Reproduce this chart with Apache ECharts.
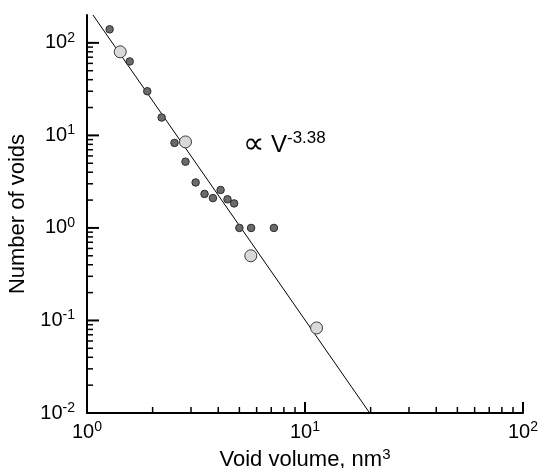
<!DOCTYPE html>
<html>
<head>
<meta charset="utf-8">
<script src="https://cdn.jsdelivr.net/npm/echarts@6/dist/echarts.min.js"></script>
<style>
  html, body { margin: 0; padding: 0; background: #fff; }
  #chart { width: 539px; height: 468px; }
</style>
</head>
<body>
<div id="chart"></div>
<script>
  // 数据：小圆点（测量值）
  var smallX = [1.27, 1.57, 1.89, 2.2, 2.52, 2.83, 3.15, 3.46, 3.78, 4.1, 4.41, 4.73, 5.0, 5.66, 7.2];
  var smallY = [140, 63, 30, 15.6, 8.3, 5.2, 3.1, 2.33, 2.1, 2.57, 2.04, 1.84, 1.0, 1.0, 1.0];
  // 大圆点
  var bigX = [1.42, 2.83, 5.64, 11.3];
  var bigY = [80, 8.5, 0.5, 0.083];
  // 拟合直线两端 (∝ V^-3.38)
  var fitX = [1.065, 19.8];
  var fitY = [200, 0.01];
  // 刻度
  var xMajor = [1, 10, 100];
  var xMinor = [2, 3, 4, 5, 6, 7, 8, 9, 20, 30, 40, 50, 60, 70, 80, 90];
  var yMajor = [0.01, 0.1, 1, 10, 100];
  var yMinor = [0.02, 0.03, 0.04, 0.05, 0.06, 0.07, 0.08, 0.09,
                0.2, 0.3, 0.4, 0.5, 0.6, 0.7, 0.8, 0.9,
                2, 3, 4, 5, 6, 7, 8, 9,
                20, 30, 40, 50, 60, 70, 80, 90];

  var xMin = 1, xMax = 100, yMin = 0.01, yMax = 200;

  function pairs(xs, ys) {
    return xs.map(function (x, i) { return [x, ys[i]]; });
  }

  var font = 'Liberation Sans, Arial, Helvetica, sans-serif';

  function powLabel(v) {
    var e = Math.round(Math.log(v) / Math.LN10);
    return '{b|10}{s|' + e + '}';
  }
  var powRich = {
    b: { fontSize: 20, fontFamily: font, color: '#000', lineHeight: 24 },
    s: { fontSize: 14, fontFamily: font, color: '#000', verticalAlign: 'top', lineHeight: 14 }
  };

  // 向内的刻度线：用矩形符号的散点画，位置由坐标轴换算
  function tickSeries(vals, dir, len, width) {
    var data = vals.map(function (v) { return dir === 'x' ? [v, yMin] : [xMin, v]; });
    return {
      type: 'scatter',
      silent: true,
      clip: false,
      z: 5,
      data: data,
      symbol: 'rect',
      symbolSize: dir === 'x' ? [width, len] : [len, width],
      symbolOffset: dir === 'x' ? [0, -len / 2] : [len / 2, 0],
      itemStyle: { color: '#000', opacity: 1 }
    };
  }

  var chart = echarts.init(document.getElementById('chart'));

  var option = {
    animation: false,
    grid: { left: 87, right: 16, top: 15, bottom: 55, outerBoundsMode: 'none' },
    xAxis: {
      type: 'log', logBase: 10, min: xMin, max: xMax,
      name: '{t|Void volume, nm}{s|3}',
      nameLocation: 'middle', nameGap: 22,
      nameTextStyle: {
        rich: {
          t: { fontSize: 22, fontFamily: font, color: '#000', lineHeight: 26 },
          s: { fontSize: 15, fontFamily: font, color: '#000', verticalAlign: 'top', lineHeight: 15 }
        }
      },
      axisLine: { show: true, lineStyle: { color: '#000', width: 2 } },
      axisTick: { show: false },
      axisLabel: { formatter: powLabel, rich: powRich, margin: 7 },
      splitLine: { show: false }
    },
    yAxis: {
      type: 'log', logBase: 10, min: yMin, max: yMax,
      name: 'Number of voids',
      nameLocation: 'middle', nameGap: 53,
      nameTextStyle: { fontSize: 22, fontFamily: font, color: '#000' },
      axisLine: { show: true, lineStyle: { color: '#000', width: 2 } },
      axisTick: { show: false },
      axisLabel: {
        formatter: function (v) { return v > 150 ? '' : powLabel(v); },
        rich: powRich, margin: 12
      },
      splitLine: { show: false }
    },
    graphic: [{
      type: 'text',
      left: 243, top: 130,
      style: {
        text: '{p|∝}{g| }{v|V}{s|-3.38}',
        rich: {
          p: { fontSize: 30, fontFamily: 'Liberation Serif, serif', color: '#000', lineHeight: 30 },
          g: { width: 7 },
          v: { fontSize: 24, fontFamily: font, color: '#000', lineHeight: 30 },
          s: { fontSize: 17, fontFamily: font, color: '#000', verticalAlign: 'top', lineHeight: 16 }
        }
      }
    }],
    series: [
      tickSeries(xMajor, 'x', 11, 2),
      tickSeries(xMinor, 'x', 6, 1.5),
      tickSeries(yMajor, 'y', 12, 2),
      tickSeries(yMinor, 'y', 6, 1.5),
      {
        type: 'line',
        data: pairs(fitX, fitY),
        showSymbol: false,
        lineStyle: { color: '#000', width: 1 },
        z: 2
      }, {
        type: 'scatter',
        data: pairs(smallX, smallY),
        symbolSize: 7.5,
        itemStyle: { color: '#6b6b6b', borderColor: '#2a2a2a', borderWidth: 1, opacity: 1 },
        z: 3
      }, {
        type: 'scatter',
        data: pairs(bigX, bigY),
        symbolSize: 12,
        itemStyle: { color: '#d9d9d9', borderColor: '#3a3a3a', borderWidth: 1, opacity: 1 },
        z: 3
      }
    ]
  };

  chart.setOption(option);
</script>
</body>
</html>
